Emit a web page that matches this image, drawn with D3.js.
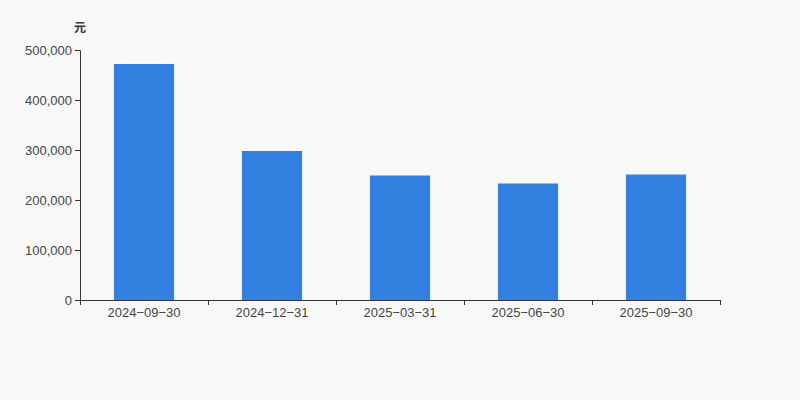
<!DOCTYPE html>
<html>
<head>
<meta charset="utf-8">
<script src="https://cdn.jsdelivr.net/npm/d3@7"></script>
<style>
  html, body { margin: 0; padding: 0; background: #f8f8f8; }
  text { font-family: "Liberation Sans", Arial, "Noto Sans CJK SC", sans-serif; }
</style>
</head>
<body>
<div id="chart"></div>
<script>
// data
const categories = ["2024-09-30", "2024-12-31", "2025-03-31", "2025-06-30", "2025-09-30"]
const values = [472000, 298000, 249000, 233000, 251000]
const yTicks = [0, 100000, 200000, 300000, 400000, 500000]
const unitLabel = "元"

const width = 800
const height = 400
const margin = { top: 50, right: 80, bottom: 100, left: 80 }

const svg = d3.select("#chart")
  .append("svg")
  .attr("width", width)
  .attr("height", height)
  .style("background", "#f8f8f8")

const x = d3.scaleBand()
  .domain(categories)
  .range([margin.left, width - margin.right])

const y = d3.scaleLinear()
  .domain([0, 500000])
  .range([height - margin.bottom, margin.top])

const barWidth = x.bandwidth() * 0.47

// bars
svg.append("g")
  .selectAll("rect")
  .data(values)
  .join("rect")
  .attr("x", (d, i) => x(categories[i]) + (x.bandwidth() - barWidth) / 2)
  .attr("y", d => y(d))
  .attr("width", barWidth)
  .attr("height", d => y(0) - y(d))
  .attr("fill", "#3380e0")

// y axis
const yAxis = svg.append("g")
  .attr("transform", `translate(${margin.left},0)`)
  .call(d3.axisLeft(y).tickValues(yTicks).tickSize(5).tickPadding(3)
    .tickFormat(d3.format(",")))
yAxis.select(".domain").attr("stroke", "#333")
yAxis.selectAll(".tick line").attr("stroke", "#333")
yAxis.selectAll(".tick text").attr("fill", "#444").style("font-size", "13px")

// x axis (labels use a minus-like dash as in the reference)
const xAxis = svg.append("g")
  .attr("transform", `translate(0,${y(0)})`)
  .call(d3.axisBottom(x).tickSize(0).tickPadding(8)
    .tickFormat(d => d.replace(/-/g, "\u2212")))
xAxis.select(".domain").attr("stroke", "#333")
xAxis.selectAll(".tick text").attr("fill", "#444").style("font-size", "13px")

// boundary ticks between categories
svg.append("g")
  .selectAll("line")
  .data(categories.concat(["end"]))
  .join("line")
  .attr("x1", (d, i) => i < categories.length ? x(d) + 0.5 : x.range()[1] + 0.5)
  .attr("x2", (d, i) => i < categories.length ? x(d) + 0.5 : x.range()[1] + 0.5)
  .attr("y1", y(0))
  .attr("y2", y(0) + 5)
  .attr("stroke", "#333")

// unit label
svg.append("text")
  .attr("x", margin.left)
  .attr("y", 32)
  .attr("text-anchor", "middle")
  .attr("fill", "#333")
  .style("font-family", "'Noto Sans CJK SC', sans-serif")
  .style("font-size", "12px")
  .style("font-weight", "bold")
  .text(unitLabel)
</script>
</body>
</html>
